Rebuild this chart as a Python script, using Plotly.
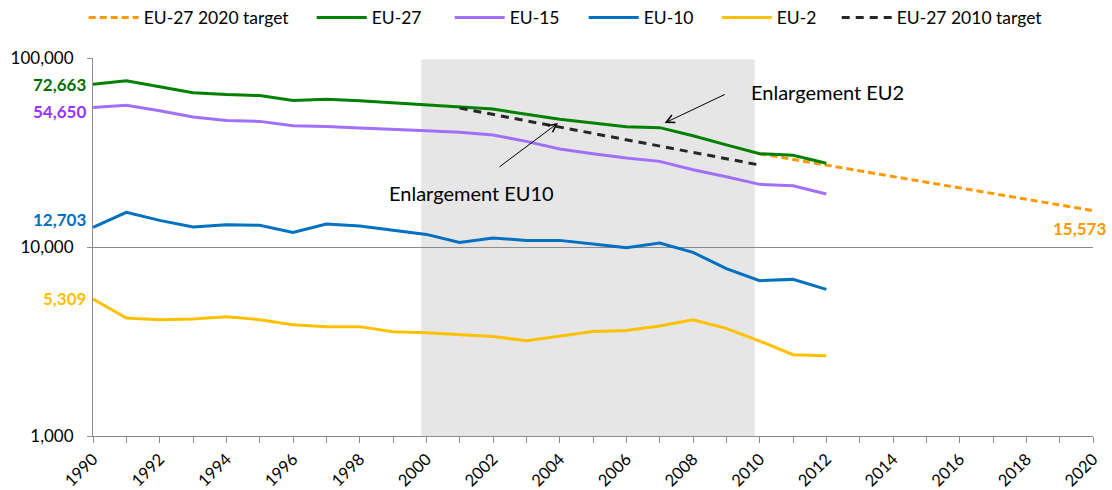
import math
import plotly.graph_objects as go

# ---------------- data ----------------
years = list(range(1990, 2013))
eu27 = [72663, 75700, 70500, 65450, 64050, 63250, 59550, 60550, 59400, 57850, 56500,
        54700, 53650, 50400, 47450, 45350, 43300, 42800, 38800, 34700, 31146, 30600, 27750]
eu15 = [54650, 56150, 52610, 48710, 46770, 46200, 43820, 43470, 42600, 42090, 41230,
        40420, 39120, 36210, 32980, 31170, 29560, 28380, 25650, 23550, 21450, 21100, 19070]
eu10 = [12703, 15250, 13830, 12750, 13120, 13020, 11950, 13230, 12910, 12250, 11660,
        10580, 11150, 10840, 10840, 10370, 9915, 10500, 9370, 7680, 6635, 6740, 5970]
eu2 = [5309, 4210, 4125, 4160, 4280, 4125, 3880, 3790, 3790, 3560, 3516,
       3450, 3365, 3190, 3393, 3576, 3620, 3818, 4125, 3712, 3180, 2692, 2660]

target2010_years = list(range(2001, 2011))
target2010 = [54300, 50300, 46500, 43100, 39900, 36900, 34200, 31600, 29300, 27150]

target2020_years = list(range(2010, 2021))
target2020 = [31146, 29060, 27110, 25300, 23600, 22020, 20540, 19170, 17880, 16690, 15573]

xtick_years = list(range(1990, 2021, 2))
ytick_vals = [1000, 10000, 100000]
ytick_text = ["1,000", "10,000", "100,000"]

shade_period = [1999.85, 2009.85]

annot_eu2 = {"text": "Enlargement EU2", "x": 2009.68, "y": 65900,
             "arrow_from": (2009.0, 64700), "arrow_to": (2007.15, 45300)}
annot_eu10 = {"text": "Enlargement EU10", "x": 2003.88, "y": 19400,
              "arrow_from": (2002.15, 26200), "arrow_to": (2003.95, 45300)}

# ---------------- style ----------------
FONT = "Lato"
C_ORANGE = "#FF9900"
C_GREEN = "#008000"
C_PURPLE = "#A070FA"
C_BLUE = "#0070C0"
C_YELLOW = "#FFC000"
C_BLACK = "#262626"
C_AXIS = "#8C8C8C"

fig = go.Figure()

series = [
    ("EU-27 2020 target", target2020_years, target2020, C_ORANGE, "7px,4px"),
    ("EU-27", years, eu27, C_GREEN, "solid"),
    ("EU-15", years, eu15, C_PURPLE, "solid"),
    ("EU-10", years, eu10, C_BLUE, "solid"),
    ("EU-2", years, eu2, C_YELLOW, "solid"),
    ("EU-27 2010 target", target2010_years, target2010, C_BLACK, "8px,6px"),
]

legend_x = [-0.0093, 0.2187, 0.3567, 0.4907, 0.6237, 0.7437]

for i, (name, xs, ys, col, dash) in enumerate(series):
    fig.add_trace(go.Scatter(
        x=xs, y=ys, name=name, mode="lines",
        line=dict(color=col, width=3, dash=dash),
        legend="legend" if i == 0 else f"legend{i+1}",
        showlegend=True,
        hoverinfo="skip",
    ))

legend_common = dict(orientation="h", xanchor="left", yanchor="middle", y=1.1066,
                     font=dict(family=FONT, size=17.5, color="#000000"),
                     bgcolor="rgba(0,0,0,0)", itemwidth=50)
layout_legends = {}
for i, lx in enumerate(legend_x):
    key = "legend" if i == 0 else f"legend{i+1}"
    layout_legends[key] = dict(legend_common, x=lx)

# shaded period
fig.add_shape(type="rect", xref="x", yref="paper", x0=shade_period[0], x1=shade_period[1],
              y0=0, y1=0.996, fillcolor="#E6E6E6", line=dict(width=0), layer="below")

annotations = []
# left labels at first point
left_labels = [(eu27[0], "#007000", 0), (eu15[0], "#9933FF", -4),
               (eu10[0], C_BLUE, 8), (eu2[0], C_YELLOW, 0)]
for val, tcol, ysh in left_labels:
    annotations.append(dict(x=years[0], y=math.log10(val), xref="x", yref="y",
                            text=f"<b>{val:,}</b>", showarrow=False, xanchor="right",
                            yanchor="middle", xshift=-5, yshift=ysh,
                            font=dict(family=FONT, size=17, color=tcol)))
annotations.append(dict(x=target2020_years[-1], y=math.log10(target2020[-1]), xref="x", yref="y",
                        text=f"<b>{target2020[-1]:,}</b>", showarrow=False, xanchor="center",
                        yanchor="middle", xshift=-14, yshift=-18,
                        font=dict(family=FONT, size=17, color=C_ORANGE)))

for a, anchor in [(annot_eu2, "left"), (annot_eu10, "right")]:
    annotations.append(dict(x=a["x"], y=math.log10(a["y"]), xref="x", yref="y", text=a["text"],
                            showarrow=False, xanchor=anchor, yanchor="middle",
                            font=dict(family=FONT, size=20, color="#000000")))
    annotations.append(dict(x=a["arrow_to"][0], y=math.log10(a["arrow_to"][1]), xref="x", yref="y",
                            ax=a["arrow_from"][0], ay=math.log10(a["arrow_from"][1]),
                            axref="x", ayref="y", text="", showarrow=True,
                            arrowhead=5, arrowsize=1.6, arrowwidth=1, arrowcolor="#000000"))

fig.update_layout(
    width=1112, height=490,
    margin=dict(l=93, r=19, t=58, b=54, autoexpand=False),
    paper_bgcolor="white", plot_bgcolor="white",
    showlegend=True,
    annotations=annotations,
    **layout_legends,
)

fig.update_xaxes(
    range=[1990, 2020], tickmode="array", tickvals=xtick_years,
    ticktext=[str(y) for y in xtick_years], tickangle=-45,
    ticks="outside", ticklen=6, tickcolor=C_AXIS, showline=True, linecolor=C_AXIS,
    showgrid=False, zeroline=False, automargin=False,
    minor=dict(dtick=1, tick0=1990, ticks="outside", ticklen=6, tickcolor=C_AXIS, showgrid=False),
    tickfont=dict(family=FONT, size=16.5, color="#000000"),
)
fig.update_yaxes(
    type="log", range=[3, 5], tickmode="array", tickvals=ytick_vals, ticktext=ytick_text,
    ticks="outside", ticklen=5, tickcolor=C_AXIS, showline=True, linecolor=C_AXIS,
    showgrid=True, gridcolor=C_AXIS, gridwidth=1, zeroline=False, automargin=False,
    ticklabelstandoff=10,
    tickfont=dict(family=FONT, size=17, color="#000000"),
)

fig.write_html(
    "out.html",
    config={"displayModeBar": False},
    post_script="document.body.style.margin='0';document.body.style.overflow='hidden';",
)
